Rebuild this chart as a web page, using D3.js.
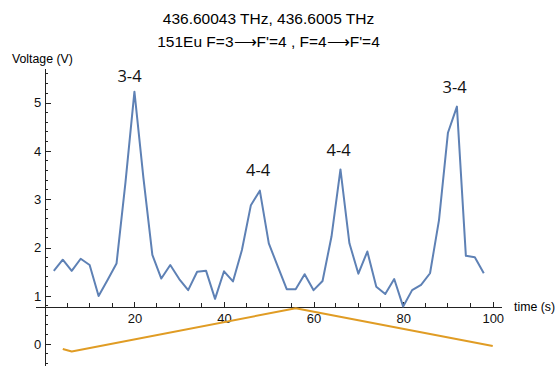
<!DOCTYPE html>
<html>
<head>
<meta charset="utf-8">
<script src="https://cdn.jsdelivr.net/npm/d3@7"></script>
<style>
  body { margin: 0; background: #fff; }
  svg { display: block; }
</style>
</head>
<body>
<div id="chart"></div>
<script>
// photodiode signal, sampled every 2 s
const times = [2, 4, 6, 8, 10, 12, 14, 16, 18, 20, 22, 24, 26, 28, 30, 32, 34, 36, 38, 40,
  42, 44, 46, 48, 50, 52, 54, 56, 58, 60, 62, 64, 66, 68, 70, 72, 74, 76, 78, 80,
  82, 84, 86, 88, 90, 92, 94, 96, 98];
const voltage = [1.52, 1.75, 1.52, 1.77, 1.64, 1.00, 1.33, 1.67, 3.35, 5.23, 3.45, 1.85, 1.36, 1.64, 1.35, 1.12, 1.50, 1.52, 0.94, 1.51,
  1.30, 1.95, 2.88, 3.18, 2.09, 1.61, 1.14, 1.14, 1.45, 1.12, 1.31, 2.23, 3.62, 2.09, 1.46, 1.92, 1.19, 1.04, 1.35, 0.78,
  1.12, 1.23, 1.47, 2.57, 4.38, 4.92, 1.83, 1.80, 1.47];

// laser scan ramp (vertices)
const rampTimes = [4, 6, 56, 100];
const rampVoltage = [-0.10, -0.15, 0.745, -0.035];

// peak annotations
const peakLabels = ["3-4", "4-4", "4-4", "3-4"];
const peakT = [18.9, 47.6, 65.6, 91.5];
const peakV = [5.43, 3.48, 3.90, 5.21];

const xMajor = [20, 40, 60, 80, 100];
const xMinor = [5, 10, 15, 25, 30, 35, 45, 50, 55, 65, 70, 75, 85, 90, 95];
const yMajor = [0, 1, 2, 3, 4, 5];
const yMinor = [-0.4, -0.2, 0.2, 0.4, 0.6, 0.8, 1.2, 1.4, 1.6, 1.8, 2.2, 2.4, 2.6, 2.8,
  3.2, 3.4, 3.6, 3.8, 4.2, 4.4, 4.6, 4.8, 5.2, 5.4, 5.6];

const width = 560, height = 367;

const x = d3.scaleLinear().domain([-2.2, 102]).range([35, 501.7]);
const y = d3.scaleLinear().domain([-0.43, 5.72]).range([365, 68]);
const xAxisAt = 0.78;

const svg = d3.select("#chart").append("svg")
    .attr("width", width)
    .attr("height", height)
    .style("font-family", "'Liberation Sans', Arial, sans-serif");

const x0 = x(0), yA = y(xAxisAt);
const axisColor = "#222";

// minor ticks
svg.append("g").selectAll("line")
    .data(xMinor)
    .join("line")
    .attr("x1", d => x(d)).attr("x2", d => x(d))
    .attr("y1", yA).attr("y2", yA - 3.5);
svg.append("g").selectAll("line")
    .data(yMinor)
    .join("line")
    .attr("x1", x0).attr("x2", x0 + 3.5)
    .attr("y1", d => y(d)).attr("y2", d => y(d));

svg.append("g")
    .attr("transform", `translate(0,${yA})`)
    .call(d3.axisBottom(x).tickValues(xMajor).tickFormat(d3.format("d"))
        .tickSizeInner(-5).tickSizeOuter(0).tickPadding(7.4));

svg.append("g")
    .attr("transform", `translate(${x0},0)`)
    .call(d3.axisLeft(y).tickValues(yMajor).tickFormat(d3.format("d"))
        .tickSizeInner(-6).tickSizeOuter(0).tickPadding(3.6));

svg.selectAll("line, .domain")
    .attr("stroke", axisColor)
    .attr("stroke-width", 1)
    .attr("shape-rendering", "crispEdges");
svg.selectAll(".tick text")
    .attr("fill", "#111")
    .style("font-size", "13px")
    .style("font-family", "'Liberation Sans', Arial, sans-serif");

// signal line
const signal = times.map((t, i) => ({t: t, v: voltage[i]}));
svg.append("path")
    .datum(signal)
    .attr("fill", "none")
    .attr("stroke", "#5E81B5")
    .attr("stroke-width", 2)
    .attr("stroke-linejoin", "round")
    .attr("d", d3.line().x(d => x(d.t)).y(d => y(d.v)));

// ramp line
const ramp = rampTimes.map((t, i) => ({t: t, v: rampVoltage[i]}));
svg.append("path")
    .datum(ramp)
    .attr("fill", "none")
    .attr("stroke", "#E09C24")
    .attr("stroke-width", 2)
    .attr("stroke-linejoin", "round")
    .attr("d", d3.line().x(d => x(d.t)).y(d => y(d.v)));

// peak labels
svg.selectAll(".peak")
    .data(peakLabels)
    .join("text")
    .attr("class", "peak")
    .attr("x", (d, i) => x(peakT[i]))
    .attr("y", (d, i) => y(peakV[i]))
    .attr("text-anchor", "middle")
    .style("font-family", "'Open Sans', 'Noto Sans', sans-serif")
    .style("font-size", "16.5px")
    .attr("fill", "#111")
    .text(d => d);

// title
svg.append("text")
    .attr("x", 268.5).attr("y", 24)
    .attr("text-anchor", "middle")
    .style("font-size", "15.5px")
    .text("436.60043 THz, 436.6005 THz");
svg.append("text")
    .attr("x", 268.5).attr("y", 46.5)
    .attr("text-anchor", "middle")
    .style("font-size", "15.5px")
    .text("151Eu F=3\u27F6F'=4 , F=4\u27F6F'=4");

// axis labels
svg.append("text")
    .attr("x", 12).attr("y", 63)
    .style("font-size", "12.3px")
    .text("Voltage (V)");
svg.append("text")
    .attr("x", 514).attr("y", 311)
    .style("font-size", "12.3px")
    .text("time (s)");
</script>
</body>
</html>
